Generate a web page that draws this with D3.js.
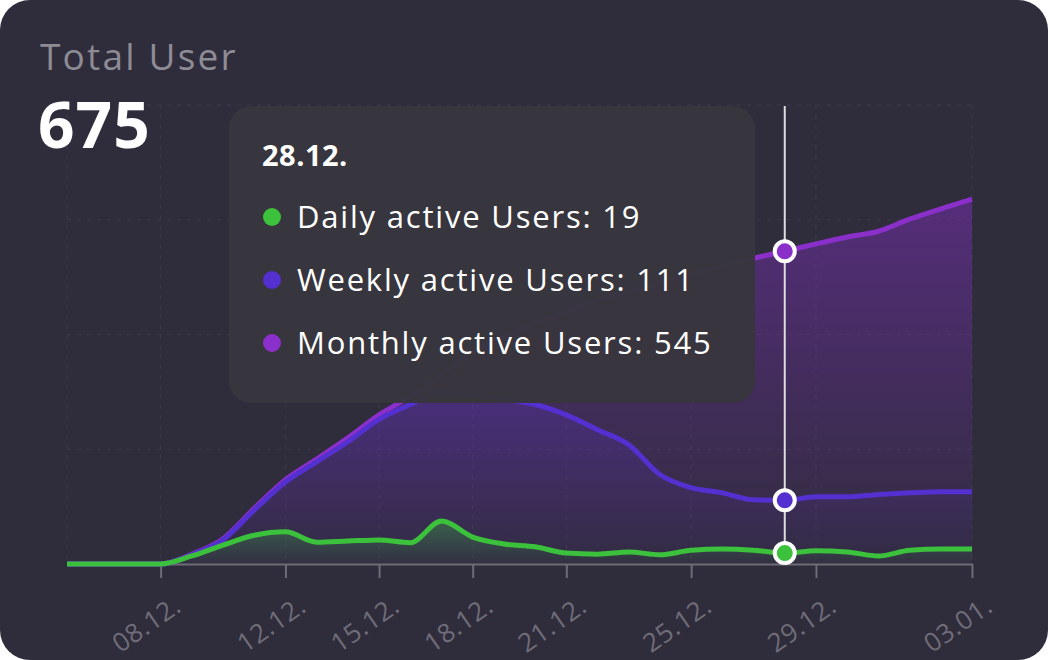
<!DOCTYPE html>
<html><head><meta charset="utf-8">
<script src="https://cdn.jsdelivr.net/npm/d3@7"></script>
<style>
body{margin:0;background:#fff;font-family:"Open Sans",sans-serif;}
</style></head>
<body><svg id="c" width="1048" height="660"></svg>
<script>
var days = ['05.12.','06.12.','07.12.','08.12.','09.12.','10.12.','11.12.','12.12.','13.12.','14.12.','15.12.','16.12.','17.12.','18.12.','19.12.','20.12.','21.12.','22.12.','23.12.','24.12.','25.12.','26.12.','27.12.','28.12.','29.12.','30.12.','31.12.','01.01.','02.01.','03.01.'];
var tickLabels = ['08.12.','12.12.','15.12.','18.12.','21.12.','25.12.','29.12.','03.01.'];
var daily = [0,0,0,0,14,33,50,56,38,40,42,37,75,47,35,30,19,17,21,16,24,26,24,19,23,21,14,24,26,26];
var weekly = [0,0,0,0,16,42,94,143,178,213,252,278,300,295,287,278,260,234,208,156,133,124,112,111,117,117,121,124,126,126];
var monthly = [0,0,0,0,17,44,97,147,183,220,260,292,330,370,395,420,440,460,475,490,505,520,533,545,558,570,580,601,619,636];
var yTicks = [0,200,400,600,800];
var hoverIdx = 23;

var svg = d3.select('#c');
svg.append('rect').attr('x',0).attr('y',0).attr('width',1048).attr('height',660).attr('rx',30).attr('fill','#2f2c3c');

var x = d3.scalePoint().domain(days).range([67,972]);
var y = d3.scaleLinear().domain([0,800]).range([564,105]);

var defs = svg.append('defs');
function grad(id, color, top){
  var g = defs.append('linearGradient').attr('id',id).attr('x1',0).attr('x2',0).attr('y1',0).attr('y2',1);
  g.append('stop').attr('offset','0%').attr('stop-color',color).attr('stop-opacity',top);
  g.append('stop').attr('offset','100%').attr('stop-color',color).attr('stop-opacity',0.02);
}
grad('gm','#7b2fb8',0.5);
grad('gw','#5a32c8',0.3);
grad('gd','#3cc03c',0.35);

// grid
var grid = svg.append('g').attr('stroke','#3d3a4a').attr('stroke-dasharray','4,6').attr('stroke-width',1);
yTicks.slice(1).forEach(function(t){
  grid.append('line').attr('x1',67).attr('x2',972).attr('y1',y(t)).attr('y2',y(t));
});
['05.12.'].concat(tickLabels).forEach(function(d){
  grid.append('line').attr('x1',x(d)).attr('x2',x(d)).attr('y1',105).attr('y2',564);
});

var curve = d3.curveMonotoneX;
function draw(data, gid){
  svg.append('path').datum(data)
    .attr('fill','url(#'+gid+')')
    .attr('d', d3.area().x(function(d,i){return x(days[i]);}).y0(y(0)).y1(function(d){return y(d);}).curve(curve));
}
function line(data, color){
  svg.append('path').datum(data).attr('fill','none').attr('stroke',color).attr('stroke-width',5)
    .attr('stroke-linejoin','round')
    .attr('d', d3.line().x(function(d,i){return x(days[i]);}).y(function(d){return y(d);}).curve(curve));
}
draw(monthly,'gm'); draw(weekly,'gw'); draw(daily,'gd');

// axis
var axis = svg.append('g').attr('transform','translate(0,564)')
  .call(d3.axisBottom(x).tickValues(tickLabels).tickSize(14).tickSizeOuter(0).tickFormat(function(d){return d;}));
axis.select('.domain').attr('stroke','#6e6c76').attr('stroke-width',2);
axis.selectAll('.tick line').attr('stroke','#6e6c76').attr('stroke-width',2);
axis.selectAll('.tick text').attr('fill','#6f6d78').attr('font-size',26).attr('letter-spacing',0.5)
  .attr('font-family','"Open Sans", sans-serif')
  .attr('text-anchor','end').attr('dy',0).attr('transform','translate(12,32) rotate(-35)');

line(monthly,'#8a2fc9'); line(weekly,'#5330cf'); line(daily,'#3cc13c');

// hover line
var hx = x(days[hoverIdx]);
svg.append('line').attr('x1',hx).attr('x2',hx).attr('y1',106).attr('y2',564).attr('stroke','#ddd').attr('stroke-width',2);
[[monthly,'#8a2fc9'],[weekly,'#5330cf'],[daily,'#3cc13c']].forEach(function(s){
  svg.append('circle').attr('cx',hx).attr('cy',y(s[0][hoverIdx])).attr('r',10)
    .attr('fill',s[1]).attr('stroke','#fff').attr('stroke-width',4);
});

// title
svg.append('text').attr('x',40).attr('y',70).attr('fill','#8d8b94').attr('font-size',37).attr('letter-spacing',2.2).text('Total User');
svg.append('text').attr('x',38).attr('y',148).attr('fill','#fff').attr('font-size',64).attr('font-weight',700).attr('letter-spacing',1).text('675');

// tooltip
var tt = svg.append('g');
tt.append('rect').attr('x',229).attr('y',106).attr('width',526).attr('height',297).attr('rx',22).attr('fill','#38363d').attr('opacity',0.97);
tt.append('text').attr('x',262).attr('y',166).attr('fill','#fff').attr('font-size',29).attr('font-weight',700).attr('letter-spacing',0.5).text(days[hoverIdx]);
var items = [['Daily active Users',daily,'#3cc13c'],['Weekly active Users',weekly,'#5330cf'],['Monthly active Users',monthly,'#8a2fc9']];
items.forEach(function(it,i){
  var cy = 217 + i*63;
  tt.append('circle').attr('cx',272).attr('cy',cy).attr('r',9).attr('fill',it[2]);
  tt.append('text').attr('x',297).attr('y',cy+11).attr('fill','#fff').attr('font-size',31).attr('letter-spacing',1.8).text(it[0]+': '+it[1][hoverIdx]);
});
</script></body></html>
